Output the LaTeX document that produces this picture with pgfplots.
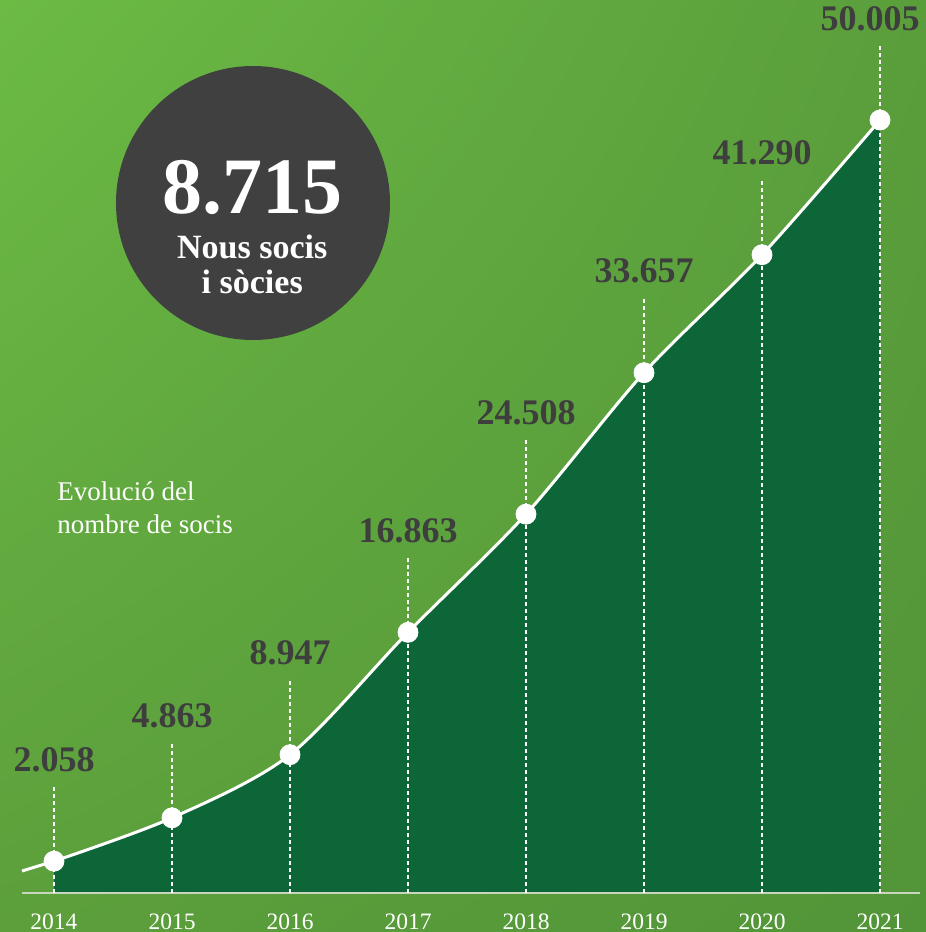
\documentclass[border=0pt]{standalone}
\usepackage{pgfplots}
\pgfplotsset{compat=1.18}
\usetikzlibrary{shadings}
\usepackage{fontspec}
\setmainfont{Liberation Serif}
\definecolor{bgUL}{RGB}{108,187,69}
\definecolor{bgUR}{RGB}{90,158,59}
\definecolor{bgLL}{RGB}{92,159,59}
\definecolor{bgLR}{RGB}{82,149,57}
\definecolor{areagreen}{RGB}{13,102,56}
\definecolor{labgray}{RGB}{62,62,62}
\definecolor{circgray}{RGB}{64,64,64}
\definecolor{basecol}{RGB}{200,214,190}
\begin{document}
\begin{tikzpicture}
\shade[upper left=bgUL, upper right=bgUR, lower left=bgLL, lower right=bgLR] (0,-19.5pt) rectangle (463pt,446.5pt);
\begin{axis}[
  at={(0,0)}, anchor=south west,
  scale only axis, width=463pt, height=446.5pt,
  xmin=2013.54237, xmax=2021.38983,
  ymin=0, ymax=57770,
  clip=false,
  axis line style={draw=none},
  major tick length=0pt,
  ytick=\empty,
  xtick={2014,2015,2016,2017,2018,2019,2020,2021},
  xticklabels={2014,2015,2016,2017,2018,2019,2020,2021},
  xticklabel style={anchor=base, yshift=-18pt, text=white, font=\fontsize{11.75}{14}\selectfont},
]
% circle
\fill[circgray] (axis cs:2015.6864,44637) circle[radius=68.5pt];
\node[anchor=base, text=white, font=\fontsize{40}{44}\selectfont\bfseries] at (axis cs:2015.68,43990) {8.715};
\node[anchor=base, text=white, font=\fontsize{17}{20}\selectfont\bfseries] at (axis cs:2015.68,41079) {Nous socis};
\node[anchor=base, text=white, font=\fontsize{17}{20}\selectfont\bfseries] at (axis cs:2015.68,38815) {i sòcies};
% subtitle
\node[anchor=base west, text=white, font=\fontsize{13.5}{16}\selectfont, inner sep=0pt] at (axis cs:2014.0254,25423) {Evolució del};
\node[anchor=base west, text=white, font=\fontsize{13.5}{16}\selectfont, inner sep=0pt] at (axis cs:2014.0254,23288) {nombre de socis};
% area
\addplot[smooth, draw=none, fill=areagreen] coordinates {
(2014,2058) (2015,4863) (2016,8947) (2017,16863) (2018,24508) (2019,33657) (2020,41290) (2021,50005)
} \closedcycle;
% baseline
\addplot[basecol, line width=1pt] coordinates {(2013.729,0) (2021.339,0)};
% dashed verticals
\addplot[ycomb, white, line width=0.6pt, dash pattern=on 2pt off 1.5pt, mark=none,
  error bars/.cd, y dir=plus, y fixed=4980, error mark=none,
  error bar style={white, line width=0.6pt, dash pattern=on 2pt off 1.5pt}] coordinates {
(2014,2058) (2015,4863) (2016,8947) (2017,16863) (2018,24508) (2019,33657) (2020,41290) (2021,50005)
};
% line
\addplot[white, line width=1.5pt] coordinates {(2013.729,1423) (2014,2058)};
\addplot[smooth, white, line width=1.5pt] coordinates {
(2014,2058) (2015,4863) (2016,8947) (2017,16863) (2018,24508) (2019,33657) (2020,41290) (2021,50005)
};
% marks
\addplot[only marks, mark=*, mark size=5pt, white] coordinates {
(2014,2058) (2015,4863) (2016,8947) (2017,16863) (2018,24508) (2019,33657) (2020,41290) (2021,50005)
};
% value labels
\addplot[only marks, mark=none, point meta=explicit symbolic, nodes near coords,
  every node near coord/.append style={anchor=base, yshift=45pt, text=labgray, font=\fontsize{18}{21}\selectfont\bfseries}]
coordinates {
(2014,2058) [2.058] (2015,4863) [4.863] (2016,8947) [8.947] (2017,16863) [16.863] (2018,24508) [24.508] (2019,33657) [33.657] (2020,41290) [41.290]
};
\addplot[only marks, mark=none, point meta=explicit symbolic, nodes near coords,
  every node near coord/.append style={anchor=base, yshift=45pt, xshift=-5pt, text=labgray, font=\fontsize{18}{21}\selectfont\bfseries}]
coordinates {
(2021,50005) [50.005]
};
\end{axis}
\pgfresetboundingbox
\path (0,-19.5pt) rectangle (463pt,446.5pt);
\end{tikzpicture}
\end{document}
